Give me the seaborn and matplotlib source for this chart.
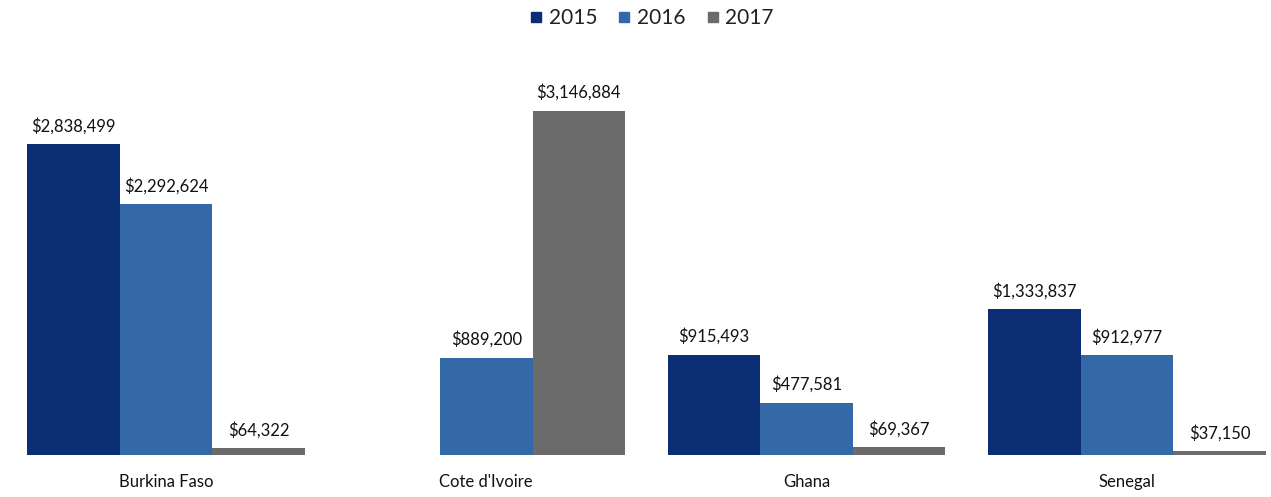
import matplotlib
matplotlib.use("Agg")
import matplotlib.pyplot as plt
from matplotlib.lines import Line2D
import numpy as np
import pandas as pd
import seaborn as sns

# Funding by country and year (Cote d'Ivoire has no 2015 figure)
countries = ["Burkina Faso", "Cote d'Ivoire", "Ghana", "Senegal"]
years = ["2015", "2016", "2017"]
values_2015 = [2838499, np.nan, 915493, 1333837]
values_2016 = [2292624, 889200, 477581, 912977]
values_2017 = [64322, 3146884, 69367, 37150]
year_colors = ["#0B2D74", "#3469A8", "#6B6B6B"]

rows = []
for year, vals in zip(years, [values_2015, values_2016, values_2017]):
    for country, v in zip(countries, vals):
        rows.append({"Country": country, "Year": year, "Amount": v})
df = pd.DataFrame(rows).dropna()

sns.set_theme(style="white")
plt.rcParams["font.family"] = ["Lato", "DejaVu Sans"]

fig = plt.figure(figsize=(12.71, 4.97), dpi=100)
ax = fig.add_axes([0.0, 0.0845, 1.0, 0.795])

sns.barplot(
    data=df, x="Country", y="Amount", hue="Year",
    order=countries, hue_order=years, palette=year_colors,
    width=0.867, saturation=1.0, linewidth=0, ax=ax, legend=False,
)

for container in ax.containers:
    ax.bar_label(container, fmt=lambda v: f"${v:,.0f}", padding=7,
                 fontsize=12, color="#111111")

ax.set_xlim(-0.518, 3.45)
ax.set_ylim(0, 3610000)
ax.set_xlabel("")
ax.set_ylabel("")
ax.set_yticks([])
ax.tick_params(axis="x", length=0, pad=14, labelsize=12, labelcolor="#111111")
for spine in ax.spines.values():
    spine.set_visible(False)

handles = [Line2D([0], [0], marker="s", linestyle="none", markersize=7,
                  markerfacecolor=c, markeredgecolor=c) for c in year_colors]
fig.legend(handles, years, loc="center", bbox_to_anchor=(0.512, 0.963),
           ncol=3, frameon=False, fontsize=15, handletextpad=0.2,
           columnspacing=0.9, handlelength=0.8, labelcolor="#222222")

fig.savefig("out.png", dpi=100, facecolor="white")
